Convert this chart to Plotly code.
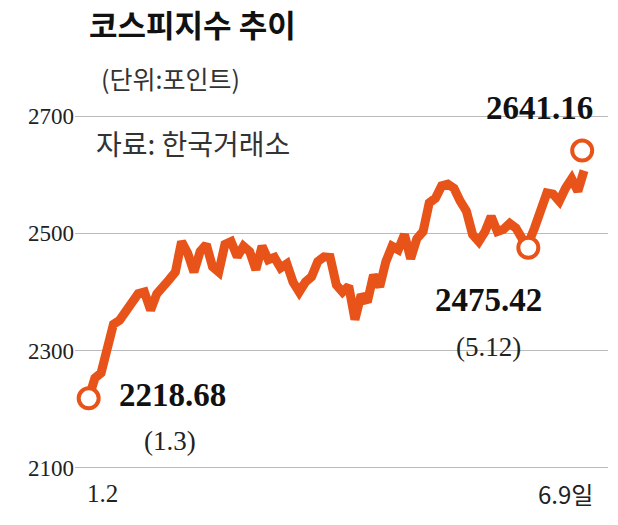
import plotly.graph_objects as go

values = [2218.68,2253,2262,2305,2345,2352,2366,2386,2397,2400,2369,2397,2407,2421,2434,2486,2466,2434,2469,2481,
          2443,2434,2481,2486,2460,2478,2469,2438,2478,2455,2459,2441,2448,2417,2400,2417,2426,2452,2460,2459,
          2412,2400,2410,2353,2395,2383,2429,2409,2452,2478,2472,2498,2457,2491,2503,2552,2560,2581,2584,2577,
          2555,2538,2498,2486,2503,2529,2503,2507,2517,2509,2491,2483,2509,2541,2569,2567,2555,2577,2593,2572,2607]
x = list(range(len(values)))
low_idx, low_val = 71, 2475.42
high_val = 2641.16
yticks = [2100, 2300, 2500, 2700]

C = "#E8531A"
FONT = "Noto Sans CJK KR"
NARROW = "Liberation Sans Narrow"
fig = go.Figure()
fig.add_trace(go.Scatter(x=x, y=values, mode="lines", line=dict(color=C, width=9), hoverinfo="skip"))
fig.add_trace(go.Scatter(x=[0, low_idx, x[-1] - 0.3], y=[values[0], low_val, high_val], mode="markers",
                         marker=dict(size=20, color="white", line=dict(color=C, width=4)), hoverinfo="skip"))
fig.update_layout(
    width=618, height=525, margin=dict(l=67, r=18, t=60, b=25),
    paper_bgcolor="white", plot_bgcolor="white", showlegend=False,
    font=dict(family=FONT, color="#222"),
    xaxis=dict(range=[-2.21, 83.87], visible=False),
    yaxis=dict(range=[2031.6, 2782.0], tickvals=yticks, showgrid=True, gridcolor="#bbbbbb", gridwidth=1,
               zeroline=False, showline=False, ticks="", tickfont=dict(size=23, family=NARROW, color="#222")),
)
def pann(t, px, py, size, bold=False, color="#222", xanchor="left", family=FONT):
    fig.add_annotation(text=f"<b>{t}</b>" if bold else t, x=(px - 74.2) / 536.9, y=(504.8 - py) / 436.5,
                       xref="paper", yref="paper", showarrow=False, xanchor=xanchor, yanchor="middle",
                       font=dict(size=size, color=color, family=family))
pann("코스피지수 추이", 86, 24, 31, bold=True, color="#111")
pann("(단위:포인트)", 98, 78, 25, color="#333")
pann("자료: 한국거래소", 93, 143, 28, color="#333")
pann("2641.16", 542, 108, 33, bold=True, color="#111", xanchor="center", family=NARROW)
pann("2218.68", 172, 393, 33, bold=True, color="#111", xanchor="center", family=NARROW)
pann("(1.3)", 170, 438, 27, color="#222", xanchor="center", family=NARROW)
pann("2475.42", 491, 298, 33, bold=True, color="#111", xanchor="center", family=NARROW)
pann("(5.12)", 491, 345, 27, color="#222", xanchor="center", family=NARROW)
pann("1.2", 102, 490, 25, color="#222", xanchor="center", family=NARROW)
pann("6.9일", 568, 490, 24, color="#222", xanchor="center")
fig.write_html("out.html")
